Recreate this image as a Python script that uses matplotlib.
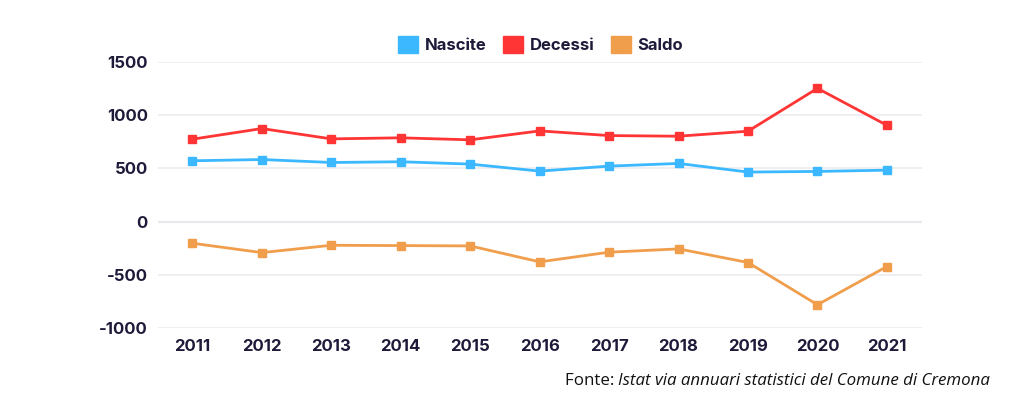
import matplotlib.pyplot as plt
from matplotlib.patches import Patch

anni = [2011, 2012, 2013, 2014, 2015, 2016, 2017, 2018, 2019, 2020, 2021]
nascite = [572, 584, 556, 563, 541, 475, 522, 547, 466, 472, 484]
decessi = [775, 875, 778, 788, 769, 853, 809, 803, 850, 1253, 906]
saldo = [-203, -291, -222, -225, -228, -378, -287, -256, -384, -781, -422]

serie = [("Nascite", nascite, "#3bb8ff"),
         ("Decessi", decessi, "#ff3535"),
         ("Saldo", saldo, "#f09e4c")]

testo = "#1e1b3a"
plt.rcParams['font.family'] = ['Inter', 'DejaVu Sans']
plt.rcParams['axes.unicode_minus'] = False

fig = plt.figure(figsize=(10.24, 4.03), dpi=100)
ax = fig.add_axes([0.154, 0.186, 0.746, 0.660])

for nome, valori, colore in serie:
    ax.plot(anni, valori, color=colore, lw=2, marker='s', markersize=6,
            label=nome, zorder=3)

ax.set_xlim(2010.5, 2021.5)
ax.set_ylim(-1000, 1500)
ax.set_yticks([-1000, -500, 0, 500, 1000, 1500])
ax.set_xticks(anni)
ax.grid(axis='y', color='#ececf0', lw=1.2, zorder=0)
ax.axhline(0, color='#d8d8e0', lw=1.5, zorder=1)
for s in ax.spines.values():
    s.set_visible(False)
ax.tick_params(length=0, labelsize=12, labelcolor=testo)
ax.tick_params(axis='x', pad=8)
ax.tick_params(axis='y', pad=7)
for lab in ax.get_xticklabels() + ax.get_yticklabels():
    lab.set_fontweight('bold')

handles = [Patch(facecolor=c, edgecolor=c, label=n) for n, v, c in serie]
fig.legend(handles=handles, loc='center', bbox_to_anchor=(0.528, 0.89),
           ncol=3, frameon=False, handlelength=1.2, handleheight=1.2,
           handletextpad=0.4, columnspacing=1.0,
           prop={'weight': 'bold', 'size': 12}, labelcolor=testo)

fig.text(0.604, 0.055, "Fonte: ", fontsize=12.2, family='Open Sans', color='#111111',
         ha='right', va='center')
fig.text(0.604, 0.055, "Istat via annuari statistici del Comune di Cremona",
         fontsize=12.2, family='Open Sans', style='italic', color='#111111',
         ha='left', va='center')

fig.savefig("out.png", dpi=100, facecolor='white')
